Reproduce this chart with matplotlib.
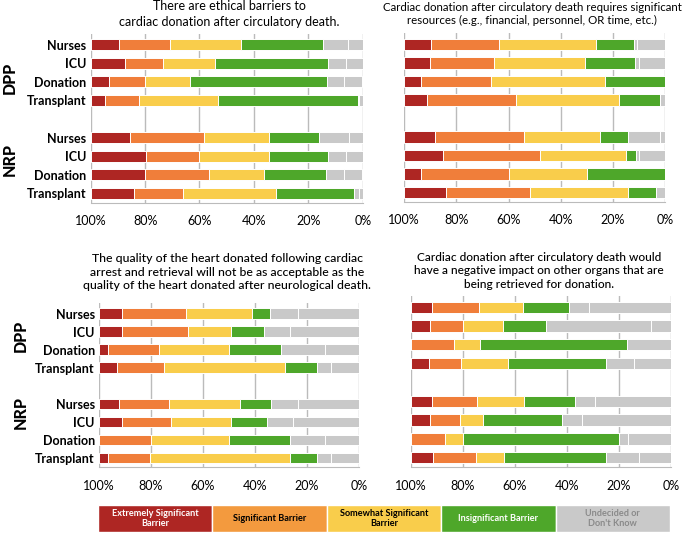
import numpy as np
import matplotlib.pyplot as plt

plt.rcParams['font.family'] = ['Lato', 'DejaVu Sans']

rows = ["Nurses", "ICU", "Donation", "Transplant"]
groups = ["DPP", "NRP"]
legend_labels = ["Extremely Significant\nBarrier", "Significant Barrier",
                 "Somewhat Significant\nBarrier", "Insignificant Barrier",
                 "Undecided or\nDon't Know"]

titles = [
    "There are ethical barriers to\ncardiac donation after circulatory death.",
    "Cardiac donation after circulatory death requires significant\nresources (e.g., financial, personnel, OR time, etc.)",
    "The quality of the heart donated following cardiac\narrest and retrieval will not be as acceptable as the\nquality of the heart donated after neurological death.",
    "Cardiac donation after circulatory death would\nhave a negative impact on other organs that are\nbeing retrieved for donation.",
]

# rows: DPP Nurses, ICU, Donation, Transplant, NRP Nurses, ICU, Donation, Transplant
# panel 1: ethical barriers
p1_extreme = [10.4, 12.6, 6.7, 5.3, 14.5, 20.5, 20.1, 16.1]
p1_significant = [18.9, 14.0, 13.4, 12.6, 27.3, 19.4, 23.4, 17.9]
p1_somewhat = [26.1, 19.0, 16.5, 28.8, 23.7, 25.6, 20.1, 34.1]
p1_insignificant = [30.1, 41.8, 50.1, 51.5, 18.3, 21.9, 23.0, 28.6]
p1_undecided = [9.2, 6.4, 6.5, 0.4, 11.0, 6.4, 6.7, 1.8]
p1_dontknow = [5.3, 6.2, 6.7, 1.5, 5.3, 6.2, 6.6, 1.6]

# panel 2: resources
p2_extreme = [10.5, 10.1, 6.6, 8.9, 12.0, 15.1, 6.6, 16.1]
p2_significant = [25.9, 24.5, 26.8, 33.9, 33.8, 36.9, 33.4, 32.3]
p2_somewhat = [37.1, 34.8, 43.4, 39.4, 29.3, 33.0, 30.0, 37.5]
p2_insignificant = [14.7, 19.1, 23.2, 15.8, 10.8, 3.6, 30.0, 10.7]
p2_undecided = [1.0, 1.3, 0.0, 0.0, 12.1, 1.3, 0.0, 0.0]
p2_dontknow = [10.8, 10.2, 0.0, 1.9, 1.9, 10.2, 0.0, 3.4]

# panel 3: heart quality
p3_extreme = [9.0, 9.0, 3.3, 7.1, 7.8, 8.8, 0.0, 3.5]
p3_significant = [24.4, 25.1, 19.9, 17.9, 19.1, 19.0, 20.0, 16.0]
p3_somewhat = [25.6, 16.5, 26.9, 46.5, 27.3, 22.8, 30.1, 53.8]
p3_insignificant = [6.8, 12.8, 20.0, 12.4, 12.1, 14.0, 23.2, 10.6]
p3_undecided = [10.6, 10.1, 16.7, 5.4, 10.1, 10.1, 13.5, 5.4]
p3_dontknow = [23.6, 26.4, 13.2, 10.6, 23.6, 25.3, 13.2, 10.6]

# panel 4: other organs
p4_extreme = [8.3, 7.4, 0.0, 7.0, 8.3, 7.4, 0.0, 8.7]
p4_significant = [18.1, 12.8, 16.6, 12.5, 17.0, 11.4, 13.3, 16.3]
p4_somewhat = [16.6, 15.2, 10.0, 17.9, 18.2, 9.1, 6.7, 10.9]
p4_insignificant = [17.9, 16.4, 56.6, 37.5, 19.7, 30.3, 60.1, 39.2]
p4_undecided = [7.7, 40.7, 0.0, 10.9, 7.6, 7.7, 3.2, 12.5]
p4_dontknow = [31.4, 7.4, 16.8, 14.1, 29.2, 34.1, 16.8, 12.4]

panels = [
    [p1_extreme, p1_significant, p1_somewhat, p1_insignificant, p1_undecided, p1_dontknow],
    [p2_extreme, p2_significant, p2_somewhat, p2_insignificant, p2_undecided, p2_dontknow],
    [p3_extreme, p3_significant, p3_somewhat, p3_insignificant, p3_undecided, p3_dontknow],
    [p4_extreme, p4_significant, p4_somewhat, p4_insignificant, p4_undecided, p4_dontknow],
]

red = '#AE2623'
orange = '#F07E3A'
yellow = '#F9CD4B'
green = '#4EA72A'
gray = '#C9C9C9'
seg_colors = [red, orange, yellow, green, gray, gray]

fig = plt.figure(figsize=(6.85, 5.34), dpi=100)

# axes rects in pixels: left, top, right, bottom
rects = [(90.7, 33.5, 362.7, 202.8), (404, 33.4, 665.3, 201.8),
         (99, 303, 359, 467), (410.7, 295.9, 671, 467.1)]
title_pos = [(229, 14), (532, 14), (227, 272), (539, 271)]
title_size = [9.0, 8.3, 8.8, 8.6]
title_weight = ['normal', 'normal', 'medium', 'medium']
group_pos = [(10, [1.8, 6.15]), None, (21, [1.25, 5.5]), None]

ypos = np.array([0, 1, 2, 3, 5, 6, 7, 8])
W, H = 685, 534

for i, (segs, r) in enumerate(zip(panels, rects)):
    l, t, rr, b = r
    ax = fig.add_axes([l / W, 1 - b / H, (rr - l) / W, (b - t) / H])
    cum = np.zeros(8)
    for vals, c in zip(segs, seg_colors):
        vals = np.array(vals)
        ax.barh(ypos, vals, left=100 - cum - vals, height=0.6, color=c,
                edgecolor='white', linewidth=0.7, zorder=2)
        cum += vals
    ax.set_xlim(100, 0)
    ax.set_ylim(8.5, -0.6)
    ax.set_xticks([100, 80, 60, 40, 20, 0])
    ax.set_xticklabels(["100%", "80%", "60%", "40%", "20%", "0%"], fontsize=9)
    ax.tick_params(axis='x', length=0, pad=9)
    ax.grid(axis='x', color='#BBBBBB', linewidth=1.0, zorder=0)
    ax.set_axisbelow(True)
    for s in ['top', 'left', 'right']:
        ax.spines[s].set_visible(False)
    ax.spines['bottom'].set_color('#BBBBBB')
    if group_pos[i] is not None:
        ax.set_yticks(ypos)
        ax.set_yticklabels(rows * 2, fontsize=9, fontweight='bold')
        ax.tick_params(axis='y', length=0, pad=3)
        gx, gy = group_pos[i]
        for g, yy in zip(groups, gy):
            ax.text((gx - l) / (rr - l), yy, g, transform=ax.get_yaxis_transform(),
                    rotation=90, ha='center', va='center', fontsize=11.5,
                    fontweight='black')
    else:
        ax.set_yticks([])
    tx, ty = title_pos[i]
    fig.text(tx / W, 1 - ty / H, titles[i], ha='center', va='center',
             fontsize=title_size[i], fontweight=title_weight[i], linespacing=1.3)

# legend strip
lax = fig.add_axes([98 / W, 2 / H, 572 / W, 27 / H])
leg_colors = [red, '#F39A3E', yellow, green, gray]
leg_text = ['white', 'black', 'black', 'white', '#8A8A8A']
lax.bar(range(5), [1] * 5, width=1, color=leg_colors, edgecolor='white', linewidth=1)
for k, lab in enumerate(legend_labels):
    lax.text(k, 0.5, lab, ha='center', va='center', fontsize=6.6,
             fontweight='bold', color=leg_text[k], linespacing=1.15)
lax.set_xlim(-0.5, 4.5)
lax.set_ylim(0, 1)
lax.axis('off')

fig.savefig('out.png', dpi=100)
